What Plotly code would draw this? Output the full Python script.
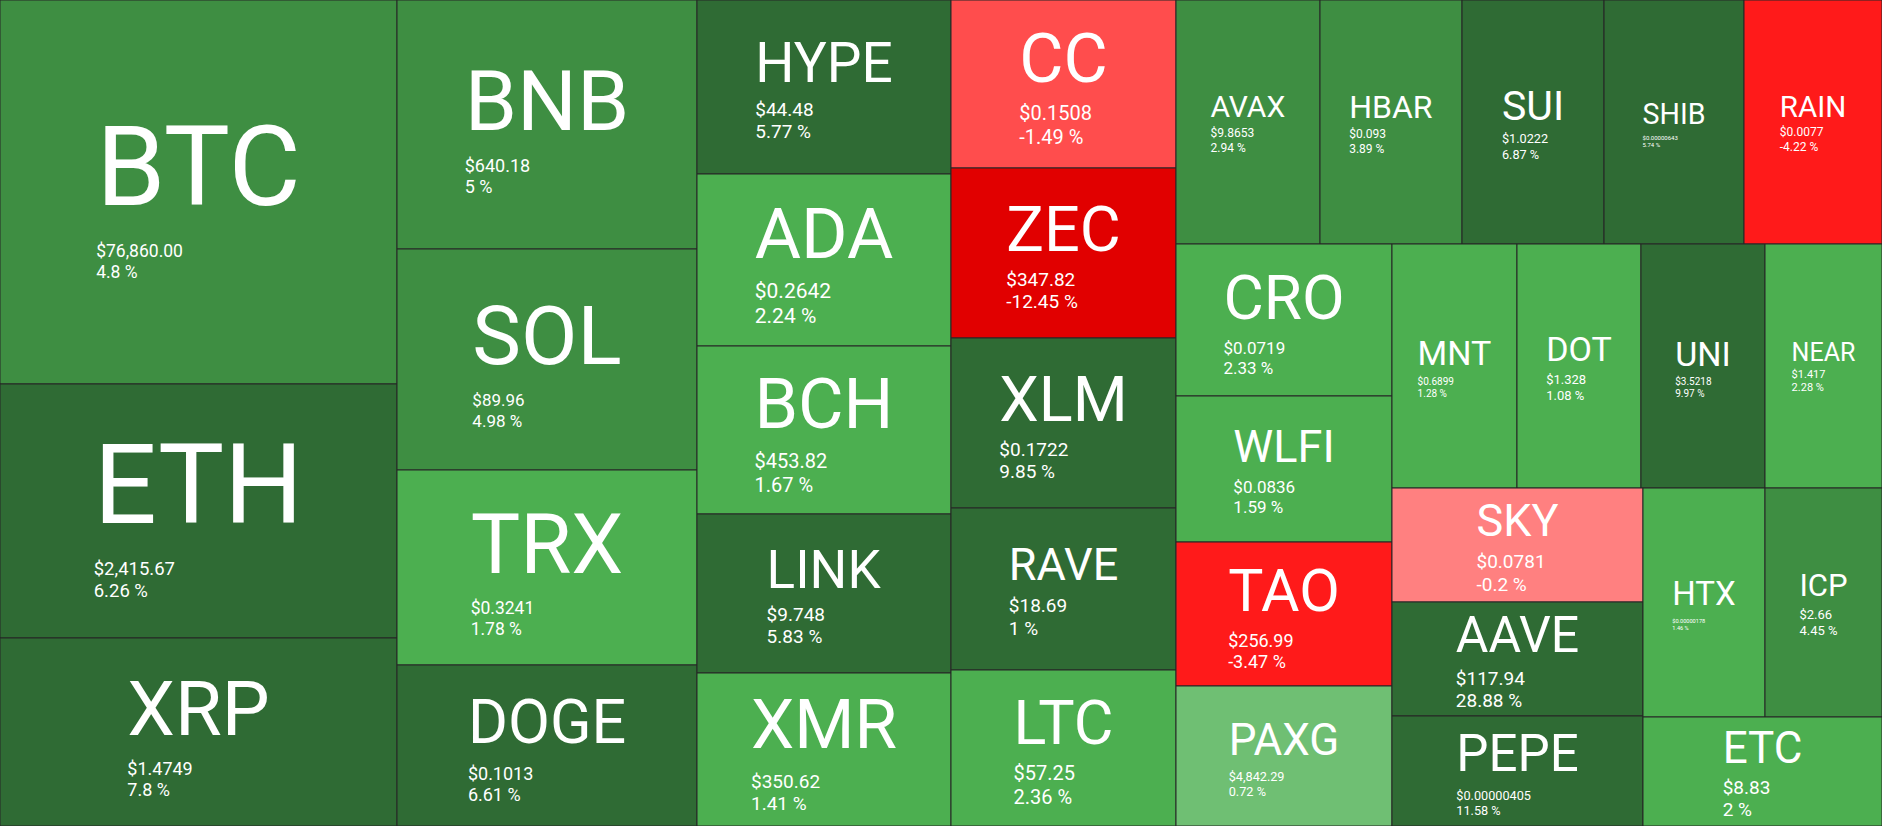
import numpy as np
import plotly.graph_objects as go

# ---- data ----
symbols = ["BTC", "ETH", "XRP", "BNB", "SOL", "TRX", "DOGE", "HYPE", "ADA", "BCH",
           "LINK", "XMR", "CC", "ZEC", "XLM", "RAVE", "LTC", "AVAX", "HBAR", "SUI",
           "SHIB", "RAIN", "CRO", "WLFI", "TAO", "PAXG", "MNT", "DOT", "UNI", "NEAR",
           "SKY", "AAVE", "PEPE", "HTX", "ICP", "ETC"]
prices = [76860.00, 2415.67, 1.4749, 640.18, 89.96, 0.3241, 0.1013, 44.48, 0.2642, 453.82,
          9.748, 350.62, 0.1508, 347.82, 0.1722, 18.69, 57.25, 9.8653, 0.093, 1.0222,
          0.00000643, 0.0077, 0.0719, 0.0836, 256.99, 4842.29, 0.6899, 1.328, 3.5218, 1.417,
          0.0781, 117.94, 0.00000405, 0.00000178, 2.66, 8.83]
changes = [4.8, 6.26, 7.8, 5, 4.98, 1.78, 6.61, 5.77, 2.24, 1.67,
           5.83, 1.41, -1.49, -12.45, 9.85, 1, 2.36, 2.94, 3.89, 6.87,
           5.74, -4.22, 2.33, 1.59, -3.47, 0.72, 1.28, 1.08, 9.97, 2.28,
           -0.2, 28.88, 11.58, 1.46, 4.45, 2]
# tile weight (relative area of each tile)
weights = [152450, 100840, 74640, 74700, 66300, 58500, 48300, 44200, 43690, 42670,
           40390, 38860, 37800, 38250, 38250, 36450, 35100, 35140, 34650, 34650,
           34160, 33670, 32830, 31540, 31100, 30240, 30500, 30260, 30260, 28550,
           28610, 28610, 27610, 27940, 26790, 26050]

# ---- styles ----
DARK, MED, LIGHT, LIGHTER = "#2f6b34", "#3e8e42", "#4caf50", "#6fbf73"
R1, R2, R3, PINK = "#e10000", "#ff1a1a", "#ff4d4d", "#ff8080"
tile_colors = [MED, DARK, DARK, MED, MED, LIGHT, DARK, DARK, LIGHT, LIGHT,
               DARK, LIGHT, R3, R1, DARK, DARK, LIGHT, MED, MED, DARK,
               DARK, R2, LIGHT, LIGHT, R2, LIGHTER, LIGHT, LIGHT, DARK, LIGHT,
               PINK, DARK, DARK, LIGHT, MED, LIGHT]
sym_size = [111, 111, 76, 84, 82, 83, 61, 55, 71, 70,
            53, 69, 68, 63, 63, 45, 61, 30, 32, 41,
            28.6, 29.5, 62, 45, 59, 44, 34, 34, 34, 25,
            45, 50, 51, 33, 31, 44]
info_size = [17.5, 18.5, 18, 18, 17, 17.5, 18, 19, 21, 20,
             19, 19, 20, 19, 19, 19, 20, 12, 12, 12.7,
             6, 12, 17, 17, 18, 12.7, 10, 13, 10, 11,
             19, 19, 12.7, 5.6, 13, 19]
sym_gap = [52, 52.6, 40, 42, 42, 42, 37, 34, 40, 40,
           33, 40, 37.7, 35, 35, 31.7, 36, 20, 20, 23,
           16.7, 19, 34, 30, 35.7, 26.7, 20, 22.7, 19, 17.3,
           32, 33, 29, 17.3, 22.7, 31]


def fmt_price(p):
    return f"{p:,.2f}" if p >= 1000 else np.format_float_positional(p, trim='-')


texts, base_sizes = [], []
for sym, p, c, fs, isz, gap in zip(symbols, prices, changes, sym_size, info_size, sym_gap):
    shift = max(gap - 1.2 * isz, 0)
    t = (f'<span style="font-size:{fs}px;baseline-shift:{shift:.1f}px;text-anchor:start">{sym}</span>'
         f'<br><span style="font-size:{isz}px;text-anchor:start">${fmt_price(p)}</span>'
         f'<br><span style="font-size:{isz}px;text-anchor:start">{c:g} %</span>')
    texts.append(t)
    base_sizes.append(round(isz * 1.2 / 1.3, 2))

fig = go.Figure(go.Treemap(
    labels=symbols,
    parents=[""] * len(symbols),
    values=weights,
    text=texts,
    textinfo="text",
    textposition="middle center",
    textfont=dict(family="Roboto", color="white", size=base_sizes),
    marker=dict(colors=tile_colors, line=dict(color="#262626", width=1),
                pad=dict(t=0, l=0, r=0, b=0)),
    tiling=dict(packing="squarify", squarifyratio=1.618034, pad=0),
    pathbar=dict(visible=False),
    sort=False,
    hoverinfo="skip",
))
fig.update_layout(width=1882, height=826, margin=dict(l=0, r=0, t=0, b=0),
                  paper_bgcolor="#262626", font=dict(family="Roboto"),
                  hovermode=False)
fig.write_html("out.html",
               config={"displayModeBar": False, "staticPlot": True},
               post_script="document.body.style.margin='0';document.body.style.overflow='hidden';")
